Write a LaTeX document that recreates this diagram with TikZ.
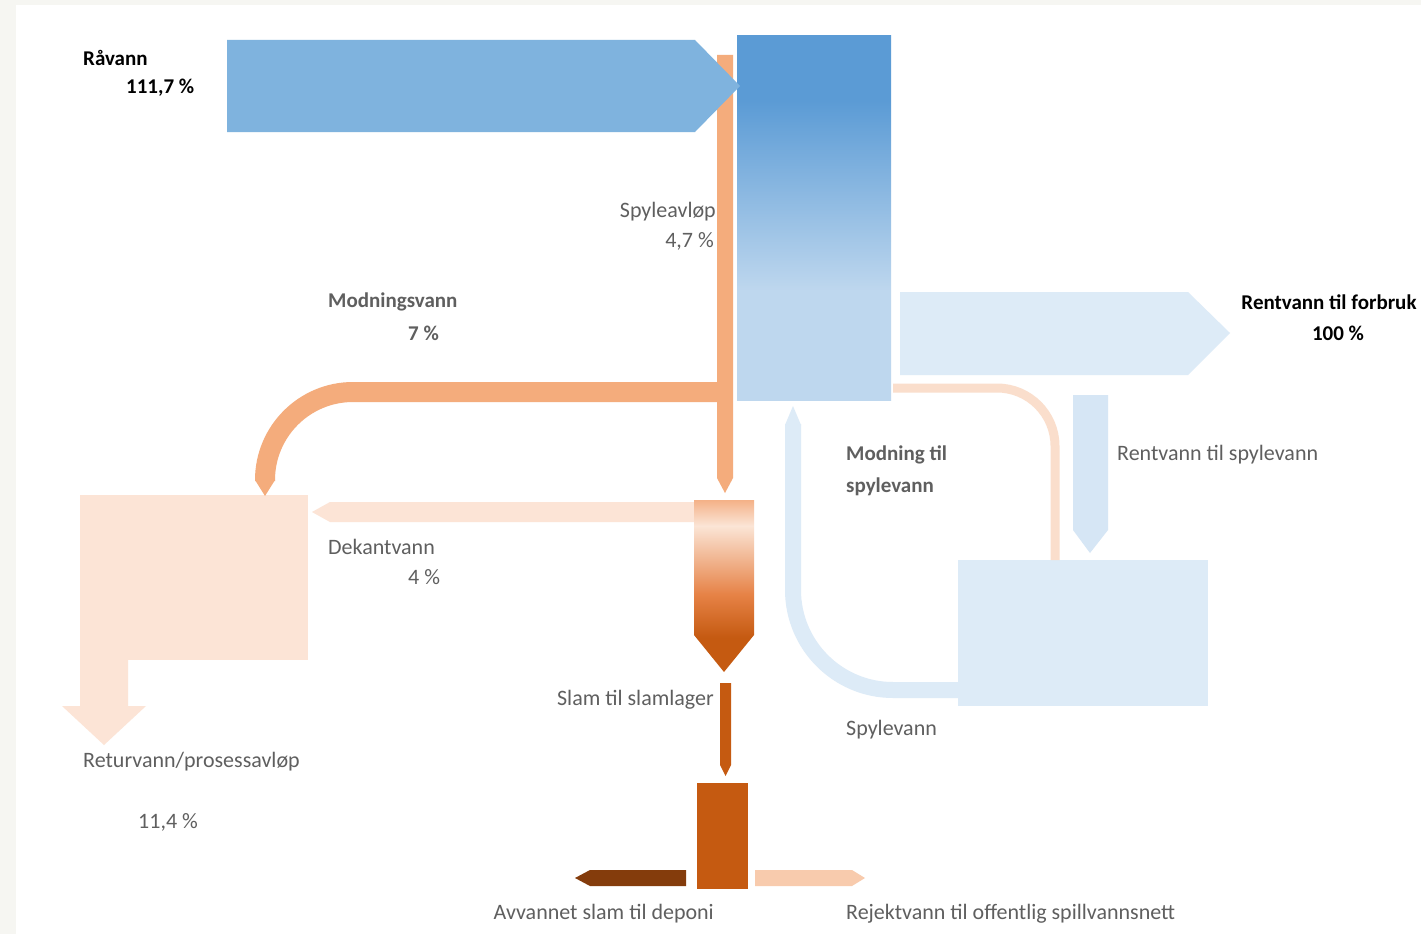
\documentclass[tikz,border=0pt]{standalone}
\usepackage{fontspec}
\setmainfont{Carlito}
\definecolor{framebg}{RGB}{246,246,242}
\definecolor{rawblue}{RGB}{127,179,222}
\definecolor{boxdark}{RGB}{91,155,213}
\definecolor{boxlight}{RGB}{190,215,238}
\definecolor{palebl}{RGB}{221,235,247}
\definecolor{palebl2}{RGB}{214,230,245}
\definecolor{orng}{RGB}{244,172,124}
\definecolor{peach}{RGB}{252,228,214}
\definecolor{lpeach}{RGB}{250,222,204}
\definecolor{slam}{RGB}{197,90,17}
\definecolor{brown}{RGB}{132,60,12}
\definecolor{rejekt}{RGB}{248,203,173}
\definecolor{txtgray}{RGB}{95,95,95}
\definecolor{decA}{RGB}{244,177,135}
\definecolor{decB}{RGB}{251,229,214}
\definecolor{decC}{RGB}{230,130,70}
\pgfdeclareverticalshading{mainbox}{100bp}{color(0bp)=(boxlight); color(40bp)=(boxlight); color(66bp)=(boxdark); color(100bp)=(boxdark)}
\pgfdeclareverticalshading{decanter}{100bp}{color(0bp)=(slam); color(35bp)=(slam); color(47.5bp)=(decC); color(67.5bp)=(decB); color(75bp)=(decA); color(100bp)=(decA)}
\begin{document}
\begin{tikzpicture}[x=1pt,y=-1pt,
  lbl/.style={font=\fontsize{22}{26}\selectfont, text=txtgray, inner sep=0pt},
  lblb/.style={font=\fontsize{21}{25}\selectfont\bfseries, text=txtgray, inner sep=0pt},
  lblk/.style={font=\fontsize{21}{25}\selectfont\bfseries, text=black, inner sep=0pt},
  boxnode/.style={draw=none, inner sep=0pt, anchor=north west}]
\useasboundingbox (0,0) rectangle (1421,934);
\fill[framebg] (0,0) rectangle (1421,934);
\fill[white] (16,5) rectangle (1421,934);

% boxes
\node[boxnode, fill=peach, minimum width=228pt, minimum height=165pt] (ret) at (80,495) {};
\node[boxnode, shade, shading=mainbox, minimum width=154pt, minimum height=365pt] (res) at (737,35) {};
\node[boxnode, fill=palebl, minimum width=250pt, minimum height=146pt] (spy) at (958,560) {};
\node[boxnode, fill=slam, minimum width=51pt, minimum height=106pt] (dew) at (697,783) {};

% Returvann outlet arrow
\fill[peach] (80,659) -- (128,659) -- (128,706) -- (146,706) -- (104,745) -- (62,706) -- (80,706) -- cycle;

% Spyleavlop (orange vertical)
\fill[orng] (717,55) -- (733,55) -- (733,478) -- (725,493) -- (717,478) -- cycle;
% Modningsvann
\draw[orng, line width=20pt, rounded corners=88pt] (725,392) -- (265,392) -- (265,481);
\fill[orng] (255,480) -- (275,480) -- (265,496) -- cycle;

% Raavann arrow
\fill[rawblue] (227,40) -- (695,40) -- (740,86) -- (695,132) -- (227,132) -- cycle;

% Rentvann til forbruk
\fill[palebl] (900,292) -- (1188,292) -- (1230,333) -- (1188,375) -- (900,375) -- cycle;
% light peach curve to spylevann tank
\draw[lpeach, line width=9pt, rounded corners=58pt] (893,388) -- (1055,388) -- (1055,560);
% Rentvann til spylevann
\fill[palebl2] (1073,395) -- (1108,395) -- (1108,530) -- (1090,553) -- (1073,530) -- cycle;
% Modning til spylevann / Spylevann
\draw[palebl, line width=16pt, rounded corners=100pt] (793,424) -- (793,690) -- (959,690);
\fill[palebl] (785,425) -- (801,425) -- (793,406) -- cycle;

% Dekantvann
\fill[peach] (694,502) -- (330,502) -- (312,512) -- (330,522) -- (694,522) -- cycle;
% decanter
\shade[shading=decanter] (694,500) -- (754,500) -- (754,635) -- (724,672) -- (694,635) -- cycle;
% Slam til slamlager
\fill[slam] (720,683) -- (731,683) -- (731,765) -- (725.5,776) -- (720,765) -- cycle;
% Avvannet slam
\fill[brown] (686,870) -- (590,870) -- (575,878) -- (590,886) -- (686,886) -- cycle;
% Rejektvann
\fill[rejekt] (755,870) -- (852,870) -- (865,878) -- (852,886) -- (755,886) -- cycle;

% labels
\node[lblk, anchor=west] (t1) at (83,58) {Råvann};
\node[lblk, anchor=west] (t2) at (126,88) {111,7 \%};
\node[lbl, anchor=east] (t3) at (716,212) {Spyleavløp};
\node[lbl, anchor=east] (t4) at (714,241) {4,7 \%};
\node[lblb, anchor=west] (t5) at (328,302) {Modningsvann};
\node[lblb, anchor=west] (t6) at (408,333) {7 \%};
\node[lblk] (t7) at (1329,302) {Rentvann til forbruk};
\node[lblk] (t8) at (1338,333) {100 \%};
\node[lblb, anchor=west] (t9) at (846,455) {Modning til};
\node[lblb, anchor=west] (t10) at (846,487) {spylevann};
\node[lbl, anchor=west] (t11) at (1117,455) {Rentvann til spylevann};
\node[lbl, anchor=west] (t12) at (328,547) {Dekantvann};
\node[lbl, anchor=west] (t13) at (408,577) {4 \%};
\node[lbl, anchor=east] (t14) at (714,700) {Slam til slamlager};
\node[lbl, anchor=west] (t15) at (846,730) {Spylevann};
\node[lbl, anchor=west] (t16) at (83,762) {Returvann/prosessavløp};
\node[lbl, anchor=west] (t17) at (138,822) {11,4 \%};
\node[lbl, anchor=east] (t18) at (714,914) {Avvannet slam til deponi};
\node[lbl, anchor=west] (t19) at (846,914) {Rejektvann til offentlig spillvannsnett};
\end{tikzpicture}
\end{document}
